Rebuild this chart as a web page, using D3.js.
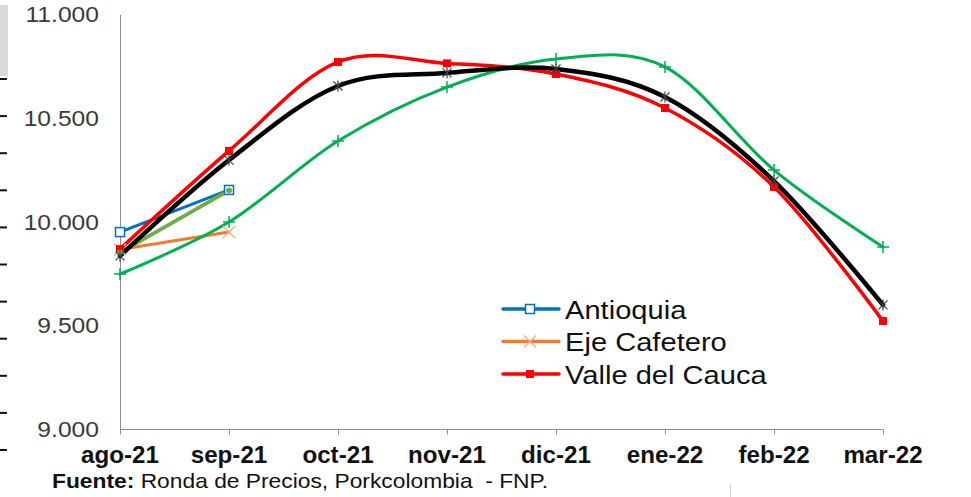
<!DOCTYPE html>
<html><head><meta charset="utf-8">
<script src="https://cdnjs.cloudflare.com/ajax/libs/d3/7.8.5/d3.min.js"></script>
<style>body{margin:0;background:#fff}svg{display:block}</style>
</head><body>
<svg id="c" width="971" height="497"></svg>
<script>
const months = ["ago-21","sep-21","oct-21","nov-21","dic-21","ene-22","feb-22","mar-22"];
const yTicks = [9000, 9500, 10000, 10500, 11000];
const antioquia = [9949, 10152];
const ejeCafetero = [9865, 9949];
const oliveSeries = [9850, 10150];
const valleCauca = [9867, 10340, 10769, 10762, 10711, 10547, 10166, 9520];
const blackSeries = [9834, 10296, 10653, 10716, 10735, 10600, 10195, 9598];
const greenSeries = [9747, 9998, 10388, 10648, 10783, 10745, 10248, 9877];
const legendNames = ["Antioquia", "Eje Cafetero", "Valle del Cauca"];
const sourceBold = "Fuente:";
const sourceText = " Ronda de Precios, Porkcolombia  - FNP.";

const svg = d3.select("#c");
const x = d3.scalePoint().domain(months).range([120, 883]);
const y = d3.scaleLinear().domain([9000, 11000]).range([429, 14]);

// decorative left artifacts
svg.append("rect").attr("x",0).attr("y",5).attr("width",8).attr("height",71).attr("fill","#d9d9d9");
d3.range(11).forEach(i => {
  svg.append("rect").attr("x",0).attr("y",78 + i*37.1).attr("width",7).attr("height",2).attr("fill","#111");
});
svg.append("line").attr("x1",730.5).attr("x2",730.5).attr("y1",484).attr("y2",497).attr("stroke","#d0d0d0");

// axes
svg.append("line").attr("x1",120.5).attr("x2",120.5).attr("y1",y(11000)+1).attr("y2",y(9000)).attr("stroke","#8c8c8c");
const xa = svg.append("g").attr("transform",`translate(0,${y(9000)+0.5})`)
  .call(d3.axisBottom(x).tickSize(5).tickFormat(""));
xa.select(".domain").attr("stroke","#8c8c8c").attr("d",`M${x(months[0])},0H${x(months[7])}`);
xa.selectAll(".tick line").attr("stroke","#8c8c8c");

// y labels
yTicks.forEach(v => {
  svg.append("text").attr("transform",`translate(99,${y(v)+8}) scale(1.12,1)`)
    .attr("text-anchor","end").attr("font-family","Liberation Sans, Arial, sans-serif")
    .attr("font-size",22).attr("fill","#3a3a3a").text(d3.format(",")(v).replace(",", "."));
});
// x labels
months.forEach(m => {
  svg.append("text").attr("transform",`translate(${x(m)},463) scale(1.05,1)`)
    .attr("text-anchor","middle").attr("font-family","Liberation Sans, Arial, sans-serif")
    .attr("font-weight","bold").attr("font-size",23).attr("fill","#111").text(m);
});
// source
const src = svg.append("text").attr("transform","translate(52,488) scale(1.14,1)")
  .attr("font-family","Liberation Sans, Arial, sans-serif").attr("font-size",20).attr("fill","#111");
src.append("tspan").attr("font-weight","bold").text(sourceBold);
src.append("tspan").style("white-space","pre").text(sourceText);

const curve = d3.curveCardinal.tension(0);
function drawLine(vals, color, width) {
  const line = d3.line().x((d,i)=>x(months[i])).y(d=>y(d)).curve(curve);
  svg.append("path").datum(vals).attr("d",line).attr("fill","none")
    .attr("stroke",color).attr("stroke-width",width).attr("stroke-linecap","round").attr("stroke-linejoin","round");
}
function sq(g, cx, cy, s, fill, stroke, sw) {
  g.append("rect").attr("x",cx-s/2).attr("y",cy-s/2).attr("width",s).attr("height",s)
    .attr("fill",fill).attr("stroke",stroke||"none").attr("stroke-width",sw||0);
}
function cross(g, cx, cy, s, color, sw) {
  g.append("path").attr("d",`M${cx-s},${cy-s}L${cx+s},${cy+s}M${cx-s},${cy+s}L${cx+s},${cy-s}`)
    .attr("stroke",color).attr("stroke-width",sw).attr("fill","none");
}
function plus(g, cx, cy, s, color, sw) {
  g.append("path").attr("d",`M${cx-s},${cy}L${cx+s},${cy}M${cx},${cy-s}L${cx},${cy+s}`)
    .attr("stroke",color).attr("stroke-width",sw).attr("fill","none");
}
function star(g, cx, cy, s, color, sw) {
  cross(g, cx, cy, s, color, sw);
  g.append("path").attr("d",`M${cx},${cy-s-1}L${cx},${cy+s+1}`).attr("stroke",color).attr("stroke-width",sw);
}

drawLine(antioquia, "#0070C0", 3);
drawLine(ejeCafetero, "#ED7D31", 3);
drawLine(valleCauca, "#FF0000", 3.5);
drawLine(greenSeries, "#00B050", 3);
drawLine(oliveSeries, "#70AD47", 4);
drawLine(blackSeries, "#000000", 4.5);

const markers = svg.append("g");
antioquia.forEach((v,i)=> sq(markers, x(months[i]), y(v), 9, "#fff", "#0070C0", 1.5));
ejeCafetero.forEach((v,i)=> cross(markers, x(months[i]), y(v), 6, "#F4B183", 1.5));
greenSeries.forEach((v,i)=> plus(markers, x(months[i]), y(v), 6, "#00B050", 1.5));
valleCauca.forEach((v,i)=> sq(markers, x(months[i]), y(v), 8, "#FF0000"));
oliveSeries.forEach((v,i)=> markers.append("circle").attr("cx",x(months[i])).attr("cy",y(v)).attr("r",3).attr("fill","#70AD47"));
blackSeries.forEach((v,i)=> star(markers, x(months[i]), y(v), 4.5, "#404040", 1.2));

// legend
const lg = svg.append("g");
const legendColors = ["#0070C0", "#ED7D31", "#FF0000"];
legendNames.forEach((n,i) => {
  const ly = 309 + i*32.5;
  lg.append("line").attr("x1",503).attr("x2",559).attr("y1",ly).attr("y2",ly)
    .attr("stroke",legendColors[i]).attr("stroke-width",3.5).attr("stroke-linecap","round");
  if (i===0) sq(lg, 530, ly, 9, "#fff", "#0070C0", 1.5);
  if (i===1) cross(lg, 530, ly, 6, "#F4B183", 1.5);
  if (i===2) sq(lg, 530, ly, 8, "#FF0000");
  lg.append("text").attr("transform",`translate(565,${ly+9.5}) scale(1.12,1)`)
    .attr("font-family","Liberation Sans, Arial, sans-serif").attr("font-size",26).attr("fill","#111").text(n);
});
</script>
</body></html>
